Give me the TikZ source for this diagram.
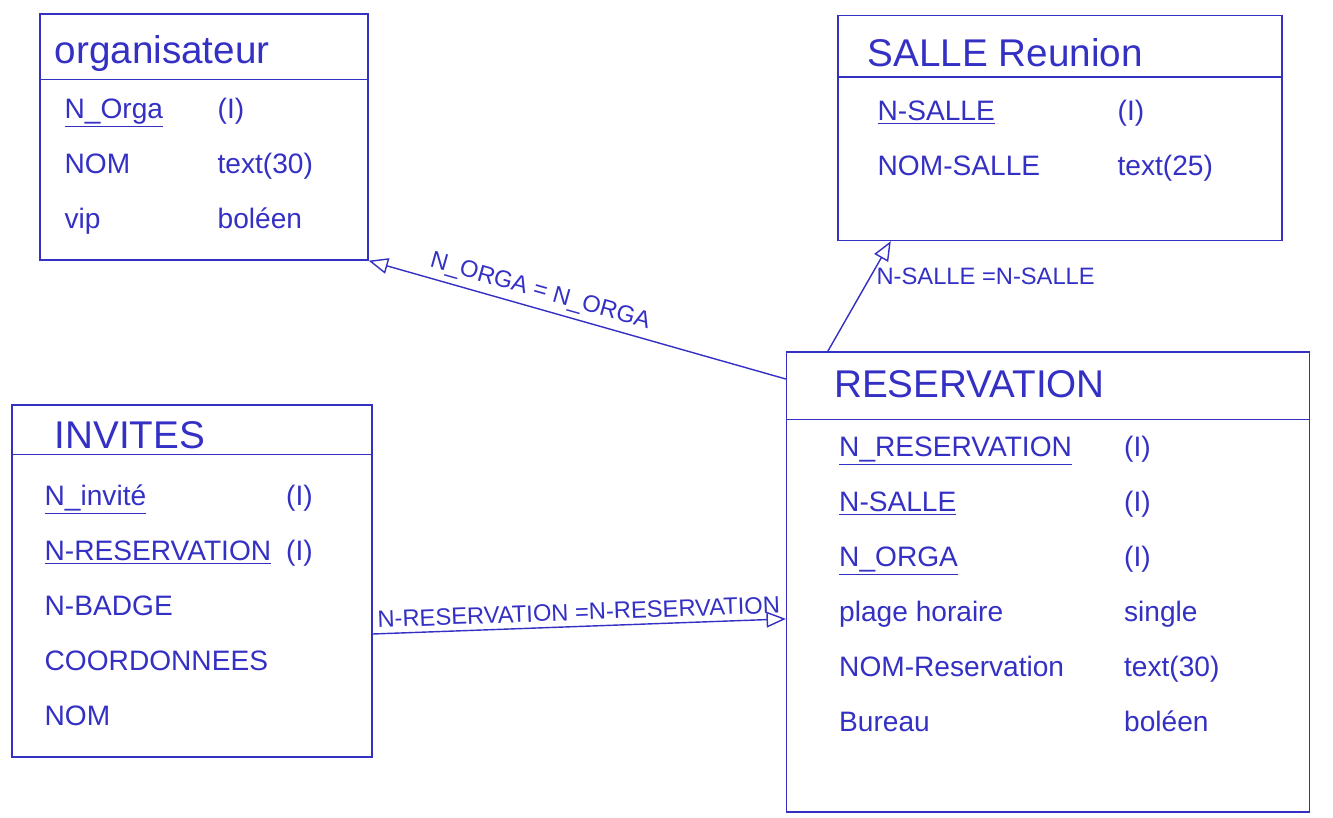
\documentclass[tikz,border=0pt]{standalone}
\usepackage{fontspec}
\setmainfont{Liberation Sans}
\usetikzlibrary{positioning, calc, arrows.meta}
\definecolor{ink}{RGB}{52,48,196}
\tikzset{%
  entity/.style = {rectangle, draw=ink, thick, inner sep=0pt},
  title/.style  = {anchor=west, inner sep=0pt, text=ink,
                   font=\fontsize{22}{25}\selectfont},
  attrs/.style  = {anchor=north west, inner sep=0pt, text=ink,
                   font=\fontsize{16}{19}\selectfont},
  sep/.style    = {draw=ink, thick},
  path/.style   = {draw=ink, thick},
  rel/.style    = {text=ink, inner sep=3pt, font=\fontsize{13.5}{16}\selectfont}
  }
\renewcommand{\arraystretch}{1.65}

\begin{document}
\begin{tikzpicture}[x=0.02cm, y=-0.02cm, >={Triangle[open, length=11pt, width=9pt]}]
    \useasboundingbox (0,0) rectangle (1333,818);

    % tables
    \node (orga)    [entity, minimum width=6.56cm,  minimum height=4.92cm] at (204,137)  {};
    \node (salle)   [entity, minimum width=8.88cm,  minimum height=4.5cm]  at (1060,128) {};
    \node (invites) [entity, minimum width=7.2cm,   minimum height=7.04cm] at (192,581)  {};
    \node (resa)    [entity, minimum width=10.46cm, minimum height=9.2cm]  at (1048,582) {};

    % table names
    \node (orgaTitle)    [title] at ($(orga.north west)+(15,40)$)    {organisateur};
    \node (salleTitle)   [title] at ($(salle.north west)+(30,38)$)   {SALLE Reunion};
    \node (invitesTitle) [title] at ($(invites.north west)+(43,31)$) {INVITES};
    \node (resaTitle)    [title] at ($(resa.north west)+(48,33)$)    {RESERVATION};

    \draw[sep] ($(orga.north west)+(0,66)$)    -- ($(orga.north east)+(0,66)$);
    \draw[sep] ($(salle.north west)+(0,62)$)   -- ($(salle.north east)+(0,62)$);
    \draw[sep] ($(invites.north west)+(0,50)$) -- ($(invites.north east)+(0,50)$);
    \draw[sep] ($(resa.north west)+(0,68)$)    -- ($(resa.north east)+(0,68)$);

    % fields
    \node (orgaAttr) [attrs] at ($(orga.north west)+(25,66)$) {%
      \begin{tabular}{@{}p{3.06cm}@{}l@{}}
        \underline{N\_Orga} & (I)      \\
        NOM                 & text(30) \\
        vip                 & boléen
      \end{tabular}};
    \node (salleAttr) [attrs] at ($(salle.north west)+(40,67)$) {%
      \begin{tabular}{@{}p{4.8cm}@{}l@{}}
        \underline{N-SALLE} & (I)      \\
        NOM-SALLE           & text(25)
      \end{tabular}};
    \node (invitesAttr) [attrs] at ($(invites.north west)+(33,62)$) {%
      \begin{tabular}{@{}l@{\hspace{0.3cm}}l@{}}
        \underline{N\_invité}     & (I) \\
        \underline{N-RESERVATION} & (I) \\
        N-BADGE                   &     \\
        COORDONNEES               &     \\
        NOM                       &
      \end{tabular}};
    \node (resaAttr) [attrs] at ($(resa.north west)+(53,66)$) {%
      \begin{tabular}{@{}p{5.7cm}@{}l@{}}
        \underline{N\_RESERVATION} & (I)      \\
        \underline{N-SALLE}        & (I)      \\
        \underline{N\_ORGA}        & (I)      \\
        plage horaire              & single   \\
        NOM-Reservation            & text(30) \\
        Bureau                     & boléen
      \end{tabular}};

    % links
    \coordinate (resaToOrga)  at ($(resa.north west)!0.06!(resa.south west)$);
    \coordinate (resaToSalle) at ($(resa.north west)!0.08!(resa.north east)$);
    \coordinate (salleIn)     at ($(salle.south west)!0.12!(salle.south east)$);
    \coordinate (invitesOut)  at ($(invites.north east)!0.65!(invites.south east)$);
    \coordinate (resaIn)      at ($(resa.north west)!0.58!(resa.south west)$);

    \path[->] (resaToOrga)  edge [path] node [rel, sloped, above, pos=0.6] {N\_ORGA = N\_ORGA} (orga.south east)
              (resaToSalle) edge [path] node [rel, right, pos=0.68] {N-SALLE =N-SALLE} (salleIn)
              (invitesOut)  edge [path] node [rel, sloped, above] {N-RESERVATION =N-RESERVATION} (resaIn);
\end{tikzpicture}
\end{document}
